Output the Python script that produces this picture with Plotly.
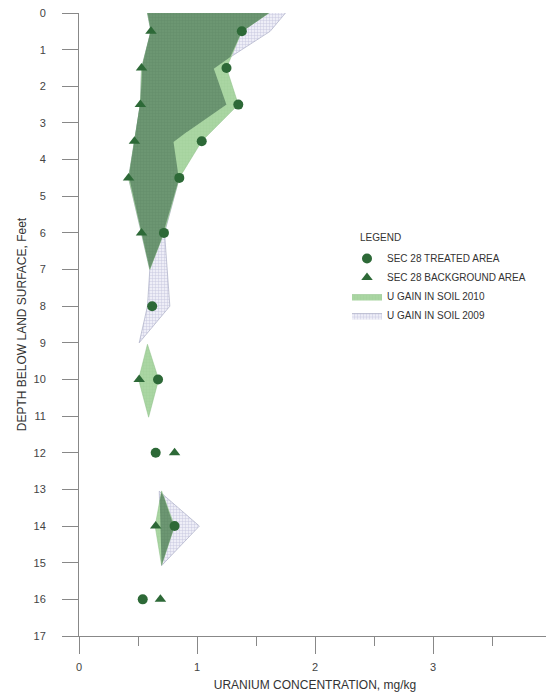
import numpy as np
import plotly.graph_objects as go

# --- measured points ---
treated_depth = [0.5, 1.5, 2.5, 3.5, 4.5, 6, 8, 10, 12, 14, 16]
treated_conc = [1.38, 1.25, 1.35, 1.04, 0.85, 0.72, 0.62, 0.67, 0.65, 0.81, 0.54]

backgr_depth = [0.5, 1.5, 2.5, 3.5, 4.5, 6, 10, 12, 14, 16]
backgr_conc = [0.61, 0.53, 0.52, 0.47, 0.42, 0.53, 0.51, 0.81, 0.65, 0.69]

# --- gain envelopes: (depth, left edge, right edge) per block ---
gain2010 = [
    ([0, 0.5, 1.5, 2.5, 3.5, 4.5, 6, 7.0],
     [0.58, 0.61, 0.53, 0.52, 0.47, 0.42, 0.53, 0.60],
     [1.61, 1.38, 1.25, 1.35, 1.04, 0.85, 0.72, 0.60]),
    ([9.04, 10, 11.03], [0.58, 0.505, 0.59], [0.58, 0.675, 0.59]),
    ([13.04, 14, 15.07], [0.70, 0.645, 0.70], [0.70, 0.81, 0.70]),
]
gain2009 = [
    ([0, 0.5, 1.5, 2.5, 3.5, 4.5, 6, 7, 8, 9],
     [0.58, 0.61, 0.53, 0.52, 0.47, 0.42, 0.53, 0.60, 0.58, 0.51],
     [1.75, 1.62, 1.14, 1.25, 0.80, 0.85, 0.725, 0.745, 0.77, 0.51]),
    ([13.05, 14, 15.08], [0.68, 0.69, 0.70], [0.68, 1.02, 0.70]),
]

GREEN_DARK = "rgb(45,105,55)"
GREEN_LIGHT = "rgb(170,214,163)"
OVERLAP = "rgb(108,150,114)"


def outline(block):
    d, left, right = block
    xs = list(right) + list(left[::-1])
    ys = list(d) + list(d[::-1])
    return xs, ys


def overlap(a, b):
    # where both envelopes cover the same depth
    d0 = max(a[0][0], b[0][0])
    d1 = min(a[0][-1], b[0][-1])
    if d1 <= d0:
        return None
    dd = np.linspace(d0, d1, 600)
    la = np.interp(dd, a[0], a[1]); ra = np.interp(dd, a[0], a[2])
    lb = np.interp(dd, b[0], b[1]); rb = np.interp(dd, b[0], b[2])
    left = np.maximum(la, lb)
    right = np.maximum(np.minimum(ra, rb), left)
    xs = np.concatenate([right, left[::-1]])
    ys = np.concatenate([dd, dd[::-1]])
    return xs, ys


fig = go.Figure()

# 2009 hatch
for i, blk in enumerate(gain2009):
    xs, ys = outline(blk)
    fig.add_trace(go.Scatter(
        x=xs, y=ys, mode="lines", fill="toself",
        fillcolor="rgb(236,236,246)",
        fillpattern=dict(shape="+", fgcolor="rgb(150,152,190)", bgcolor="rgb(238,238,247)",
                         size=3, solidity=0.25),
        line=dict(color="rgb(160,162,190)", width=0.6),
        name="U GAIN IN SOIL 2009", legendgroup="g2009", showlegend=(i == 0),
        legendrank=4, hoverinfo="skip"))

# 2010 green
for i, blk in enumerate(gain2010):
    xs, ys = outline(blk)
    fig.add_trace(go.Scatter(
        x=xs, y=ys, mode="lines", fill="toself",
        fillcolor=GREEN_LIGHT,
        fillpattern=dict(shape="+", fgcolor="rgb(150,200,145)", bgcolor=GREEN_LIGHT,
                         size=3, solidity=0.2),
        line=dict(color="rgb(140,190,135)", width=0.5),
        name="U GAIN IN SOIL 2010", legendgroup="g2010", showlegend=(i == 0),
        legendrank=3, hoverinfo="skip"))

# overlap of both years
for a in gain2010:
    for b in gain2009:
        ov = overlap(a, b)
        if ov is None:
            continue
        fig.add_trace(go.Scatter(
            x=ov[0], y=ov[1], mode="lines", fill="toself",
            fillcolor=OVERLAP,
            fillpattern=dict(shape="+", fgcolor="rgb(88,130,96)", bgcolor=OVERLAP,
                             size=3, solidity=0.25),
            line=dict(width=0), showlegend=False, hoverinfo="skip"))

fig.add_trace(go.Scatter(
    x=treated_conc, y=treated_depth, mode="markers",
    marker=dict(symbol="circle", size=10, color=GREEN_DARK),
    name="SEC 28 TREATED AREA", legendrank=1))
fig.add_trace(go.Scatter(
    x=backgr_conc, y=backgr_depth, mode="markers",
    marker=dict(symbol="triangle-up", size=10, color=GREEN_DARK),
    name="SEC 28 BACKGROUND AREA", legendrank=2))

# plot area in page pixels: left 79, right 551, top 13, bottom 636
PX_L, PX_W, PX_B, PX_H = 79, 472, 636, 623

fig.add_annotation(xref="paper", yref="paper",
                   x=(403 - PX_L) / PX_W, y=(PX_B - 237) / PX_H,
                   text="LEGEND", showarrow=False,
                   font=dict(size=10, color="#333"))

# page body has an 8px margin, so the figure is sized/offset to land the plot
# area where the reference has it
fig.update_layout(
    width=546, height=684,
    margin=dict(l=71, r=3, t=5, b=56, autoexpand=False),
    paper_bgcolor="white", plot_bgcolor="white",
    font=dict(family="Liberation Sans, Arial, sans-serif", size=11, color="#444"),
    showlegend=True,
    legend=dict(x=(347 - PX_L) / PX_W, y=(PX_B - 244) / PX_H, xanchor="left", yanchor="top",
                font=dict(size=10, color="#333"), bgcolor="rgba(0,0,0,0)",
                tracegroupgap=0, itemwidth=30),
    xaxis=dict(range=[0, 4], tickvals=[0, 1, 2, 3, 4], ticks="outside", ticklen=17,
               tickcolor="#888", showline=True, linecolor="#888", linewidth=1,
               showgrid=False, zeroline=False, ticklabelstandoff=4, automargin=False,
               ticklabeloverflow="allow",
               minor=dict(tickvals=[0.5, 1.5, 2.5, 3.5], ticks="outside", ticklen=9,
                          tickcolor="#888"),
               title=dict(text="URANIUM CONCENTRATION, mg/kg", font=dict(size=12, color="#333"),
                          standoff=12)),
    yaxis=dict(range=[17, 0], tickvals=list(range(18)), ticks="outside", ticklen=16,
               tickcolor="#888", showline=True, linecolor="#888", linewidth=1,
               showgrid=False, zeroline=False, ticklabelstandoff=14, automargin=False,
               ticklabeloverflow="allow",
               title=dict(text="DEPTH BELOW LAND SURFACE, Feet", font=dict(size=12, color="#333"),
                          standoff=4)),
)

fig.write_html("out.html")
